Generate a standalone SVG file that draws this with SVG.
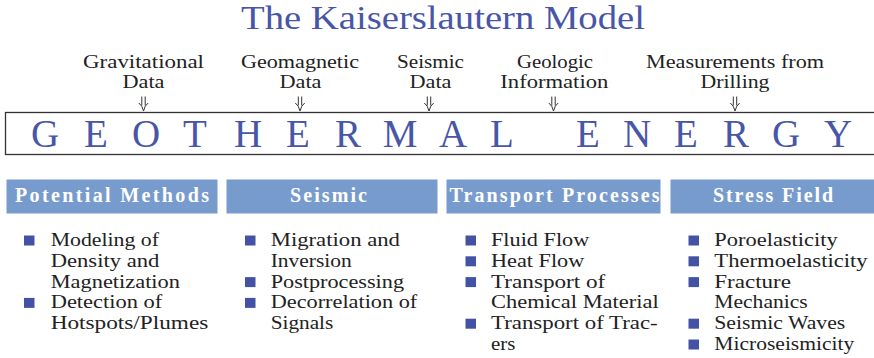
<svg xmlns="http://www.w3.org/2000/svg" width="874" height="358" viewBox="0 0 874 358" font-family="Liberation Serif">
<style>
.title{font-size:33px;fill:#4856a8;}
.lbl{font-size:19.5px;fill:#222;text-anchor:middle;}
.big{font-size:39px;fill:#4856a8;text-anchor:middle;}
.hdr{fill:#789bcd;}
.htx{font-size:20px;font-weight:bold;fill:#ffffff;}
.item{font-size:19px;fill:#222;}
.bul{fill:#4452a6;}
.arr{fill:none;stroke:#333;stroke-width:1;}
</style>
<rect width="874" height="358" fill="#ffffff"/>
<g id="title">
<text class="title" style="font-family:'Liberation Serif',serif" x="241" y="29" textLength="404" lengthAdjust="spacingAndGlyphs">The Kaiserslautern Model</text>
</g>
<g id="src-gravitational">
<text class="lbl" style="font-family:'Liberation Serif',serif" x="143.5" y="68" textLength="121" lengthAdjust="spacingAndGlyphs">Gravitational</text>
<text class="lbl" style="font-family:'Liberation Serif',serif" x="143.5" y="88" textLength="42" lengthAdjust="spacingAndGlyphs">Data</text>
</g>
<g id="src-geomagnetic">
<text class="lbl" style="font-family:'Liberation Serif',serif" x="300" y="68" textLength="118" lengthAdjust="spacingAndGlyphs">Geomagnetic</text>
<text class="lbl" style="font-family:'Liberation Serif',serif" x="300.5" y="88" textLength="42" lengthAdjust="spacingAndGlyphs">Data</text>
</g>
<g id="src-seismic">
<text class="lbl" style="font-family:'Liberation Serif',serif" x="430.5" y="68" textLength="67" lengthAdjust="spacingAndGlyphs">Seismic</text>
<text class="lbl" style="font-family:'Liberation Serif',serif" x="430.5" y="88" textLength="42" lengthAdjust="spacingAndGlyphs">Data</text>
</g>
<g id="src-geologic">
<text class="lbl" style="font-family:'Liberation Serif',serif" x="555" y="68" textLength="76" lengthAdjust="spacingAndGlyphs">Geologic</text>
<text class="lbl" style="font-family:'Liberation Serif',serif" x="554.3" y="88" textLength="108" lengthAdjust="spacingAndGlyphs">Information</text>
</g>
<g id="src-drilling">
<text class="lbl" style="font-family:'Liberation Serif',serif" x="735" y="68" textLength="178" lengthAdjust="spacingAndGlyphs">Measurements from</text>
<text class="lbl" style="font-family:'Liberation Serif',serif" x="735" y="88" textLength="69" lengthAdjust="spacingAndGlyphs">Drilling</text>
</g>
<g id="connectors">
<path class="arr" d="M141.8 96.5V105.5M145.2 96.5V105.5M138.8 103Q142.3 105.5 143.5 111Q144.7 105.5 148.2 103"/>
<path class="arr" d="M298.3 96.5V105.5M301.7 96.5V105.5M295.3 103Q298.8 105.5 300 111Q301.2 105.5 304.7 103"/>
<path class="arr" d="M427.3 96.5V105.5M430.7 96.5V105.5M424.3 103Q427.8 105.5 429 111Q430.2 105.5 433.7 103"/>
<path class="arr" d="M551.8 96.5V105.5M555.2 96.5V105.5M548.8 103Q552.3 105.5 553.5 111Q554.7 105.5 558.2 103"/>
<path class="arr" d="M733.3 96.5V105.5M736.7 96.5V105.5M730.3 103Q733.8 105.5 735 111Q736.2 105.5 739.7 103"/>
</g>
<g id="geothermal-energy">
<rect x="5.5" y="112.5" width="880" height="42" fill="none" stroke="#333" stroke-width="1.3"/>
<text class="big" style="font-family:'Liberation Serif',serif" x="45 96 146 195 248 298 348 400 453 502 588 637 686 736 786 838" y="146.5">GEOTHERMALENERGY</text>
</g>
<g id="potential-methods">
<rect class="hdr" x="6.5" y="179.5" width="211" height="34"/>
<text class="htx" style="font-family:'Liberation Serif',serif" x="15" y="202" textLength="194">Potential Methods</text>
<rect class="bul" x="24" y="235.5" width="10.5" height="10"/>
<text class="item" style="font-family:'Liberation Serif',serif" x="50.7" y="246" textLength="108.3" lengthAdjust="spacingAndGlyphs">Modeling of</text>
<text class="item" style="font-family:'Liberation Serif',serif" x="50.7" y="266.8" textLength="108.6" lengthAdjust="spacingAndGlyphs">Density and</text>
<text class="item" style="font-family:'Liberation Serif',serif" x="50.7" y="287.6" textLength="129.3" lengthAdjust="spacingAndGlyphs">Magnetization</text>
<rect class="bul" x="24" y="297.9" width="10.5" height="10"/>
<text class="item" style="font-family:'Liberation Serif',serif" x="50.7" y="308.4" textLength="111.6" lengthAdjust="spacingAndGlyphs">Detection of</text>
<text class="item" style="font-family:'Liberation Serif',serif" x="50.7" y="329.2" textLength="157.6" lengthAdjust="spacingAndGlyphs">Hotspots/Plumes</text>
</g>
<g id="seismic">
<rect class="hdr" x="226.5" y="179.5" width="211" height="34"/>
<text class="htx" style="font-family:'Liberation Serif',serif" x="290" y="202" textLength="77">Seismic</text>
<rect class="bul" x="245" y="235.5" width="10.5" height="10"/>
<text class="item" style="font-family:'Liberation Serif',serif" x="270.7" y="246" textLength="129.3" lengthAdjust="spacingAndGlyphs">Migration and</text>
<text class="item" style="font-family:'Liberation Serif',serif" x="270.7" y="266.8" textLength="81" lengthAdjust="spacingAndGlyphs">Inversion</text>
<rect class="bul" x="245" y="277.1" width="10.5" height="10"/>
<text class="item" style="font-family:'Liberation Serif',serif" x="270.7" y="287.6" textLength="133.3" lengthAdjust="spacingAndGlyphs">Postprocessing</text>
<rect class="bul" x="245" y="297.9" width="10.5" height="10"/>
<text class="item" style="font-family:'Liberation Serif',serif" x="270.7" y="308.4" textLength="146.6" lengthAdjust="spacingAndGlyphs">Decorrelation of</text>
<text class="item" style="font-family:'Liberation Serif',serif" x="270.7" y="329.2" textLength="62.6" lengthAdjust="spacingAndGlyphs">Signals</text>
</g>
<g id="transport-processes">
<rect class="hdr" x="446.5" y="179.5" width="214" height="34"/>
<text class="htx" style="font-family:'Liberation Serif',serif" x="449.5" y="202" textLength="210">Transport Processes</text>
<rect class="bul" x="465.5" y="235.5" width="10.5" height="10"/>
<text class="item" style="font-family:'Liberation Serif',serif" x="491" y="246" textLength="98.3" lengthAdjust="spacingAndGlyphs">Fluid Flow</text>
<rect class="bul" x="465.5" y="256.3" width="10.5" height="10"/>
<text class="item" style="font-family:'Liberation Serif',serif" x="491" y="266.8" textLength="93.3" lengthAdjust="spacingAndGlyphs">Heat Flow</text>
<rect class="bul" x="465.5" y="277.1" width="10.5" height="10"/>
<text class="item" style="font-family:'Liberation Serif',serif" x="491" y="287.6" textLength="114.3" lengthAdjust="spacingAndGlyphs">Transport of</text>
<text class="item" style="font-family:'Liberation Serif',serif" x="491" y="308.4" textLength="167.7" lengthAdjust="spacingAndGlyphs">Chemical Material</text>
<rect class="bul" x="465.5" y="318.7" width="10.5" height="10"/>
<text class="item" style="font-family:'Liberation Serif',serif" x="491" y="329.2" textLength="166.7" lengthAdjust="spacingAndGlyphs">Transport of Trac-</text>
<text class="item" style="font-family:'Liberation Serif',serif" x="491" y="350" textLength="24.3" lengthAdjust="spacingAndGlyphs">ers</text>
</g>
<g id="stress-field">
<rect class="hdr" x="670.5" y="179.5" width="210" height="34"/>
<text class="htx" style="font-family:'Liberation Serif',serif" x="713" y="202" textLength="120">Stress Field</text>
<rect class="bul" x="688.5" y="235.5" width="10.5" height="10"/>
<text class="item" style="font-family:'Liberation Serif',serif" x="714.3" y="246" textLength="123.4" lengthAdjust="spacingAndGlyphs">Poroelasticity</text>
<rect class="bul" x="688.5" y="256.3" width="10.5" height="10"/>
<text class="item" style="font-family:'Liberation Serif',serif" x="714.3" y="266.8" textLength="153.4" lengthAdjust="spacingAndGlyphs">Thermoelasticity</text>
<rect class="bul" x="688.5" y="277.1" width="10.5" height="10"/>
<text class="item" style="font-family:'Liberation Serif',serif" x="714.3" y="287.6" textLength="76.7" lengthAdjust="spacingAndGlyphs">Fracture</text>
<text class="item" style="font-family:'Liberation Serif',serif" x="714.3" y="308.4" textLength="93.4" lengthAdjust="spacingAndGlyphs">Mechanics</text>
<rect class="bul" x="688.5" y="318.7" width="10.5" height="10"/>
<text class="item" style="font-family:'Liberation Serif',serif" x="714.3" y="329.2" textLength="131" lengthAdjust="spacingAndGlyphs">Seismic Waves</text>
<rect class="bul" x="688.5" y="339.5" width="10.5" height="10"/>
<text class="item" style="font-family:'Liberation Serif',serif" x="714.3" y="350" textLength="140" lengthAdjust="spacingAndGlyphs">Microseismicity</text>
</g>
</svg>
